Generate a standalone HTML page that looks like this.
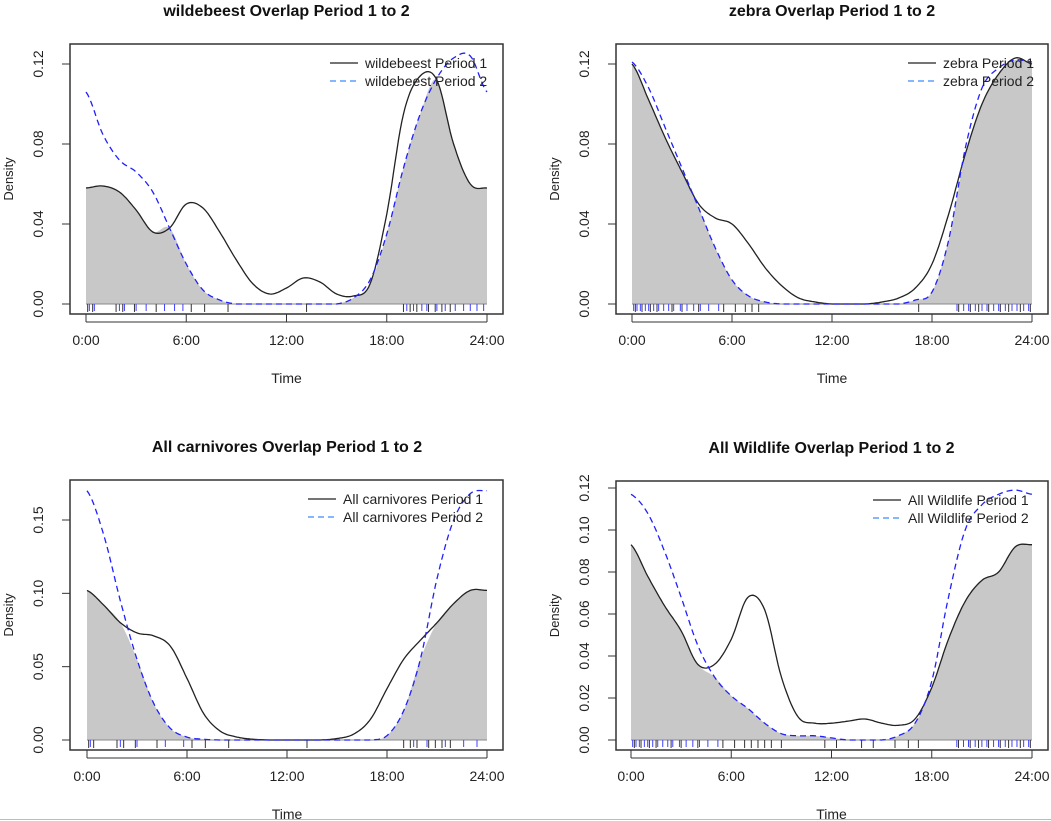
<!DOCTYPE html>
<html><head><meta charset="utf-8"><style>
html,body{margin:0;padding:0;background:#fff;}
svg{display:block;font-family:"Liberation Sans",Arial,sans-serif;}
</style></head><body>
<svg id="chart" width="1051" height="821" viewBox="0 0 1051 821"></svg>
<script>
const hours = [0,1,2,3,4,5,6,7,8,9,10,11,12,13,14,15,16,17,18,19,20,21,22,23,24];
const xTickLabels = ["0:00","6:00","12:00","18:00","24:00"];
const xTickValues = [0,6,12,18,24];
const wildebeestP1 = [0.058,0.059,0.056,0.047,0.036,0.038,0.050,0.048,0.036,0.022,0.010,0.005,0.008,0.013,0.011,0.005,0.004,0.010,0.045,0.095,0.114,0.112,0.080,0.060,0.058];
const wildebeestP2 = [0.106,0.085,0.072,0.066,0.056,0.038,0.020,0.007,0.002,0,0,0,0,0,0,0,0.003,0.012,0.035,0.068,0.095,0.113,0.123,0.124,0.106];
const zebraP1 = [0.120,0.102,0.083,0.066,0.050,0.043,0.040,0.030,0.018,0.009,0.003,0.001,0,0,0,0.001,0.003,0.008,0.020,0.045,0.075,0.100,0.115,0.123,0.120];
const zebraP2 = [0.121,0.108,0.088,0.068,0.048,0.028,0.012,0.004,0.001,0,0,0,0,0,0,0,0,0.002,0.006,0.032,0.078,0.108,0.118,0.122,0.121];
const carnP1 = [0.102,0.092,0.080,0.073,0.071,0.064,0.042,0.018,0.006,0.002,0.0005,0,0,0,0,0.001,0.004,0.014,0.035,0.055,0.068,0.080,0.093,0.102,0.102];
const carnP2 = [0.170,0.140,0.095,0.055,0.025,0.008,0.002,0.0005,0,0,0,0,0,0,0,0,0,0,0.003,0.020,0.055,0.110,0.150,0.168,0.170];
const wildP1 = [0.093,0.078,0.064,0.052,0.036,0.036,0.048,0.068,0.062,0.030,0.011,0.008,0.008,0.009,0.010,0.008,0.007,0.010,0.025,0.048,0.066,0.076,0.080,0.092,0.093];
const wildP2 = [0.117,0.108,0.090,0.068,0.045,0.030,0.021,0.015,0.008,0.003,0.002,0.002,0.001,0,0,0,0.002,0.008,0.028,0.068,0.100,0.112,0.117,0.119,0.117];
const rugA = [0.2,0.5,2.0,2.3,3.0,3.6,4.7,5.3,5.8,19.2,19.6,20.1,20.4,21.0,21.5,22.1,22.6,23.0,23.4,23.8];
const rugB = [0.1,0.4,1.8,2.2,2.9,4.2,6.3,7.1,8.5,13.2,19.0,19.4,19.8,20.5,20.9,21.3,21.8];
const rugDenseA = [0.1,0.3,0.5,0.8,1.0,1.3,1.6,1.9,2.2,2.5,2.9,3.3,3.7,4.1,4.6,5.2,19.5,19.9,20.2,20.6,21.0,21.3,21.7,22.0,22.4,22.8,23.1,23.5,23.8];
const rugDenseB = [0.2,0.6,1.1,1.5,2.4,3.0,4.0,5.5,6.2,6.8,7.2,7.6,8.0,8.4,9.0,11.6,12.3,13.8,14.5,15.8,16.6,17.2,19.6,20.3,20.8,21.4,22.1,22.6,23.3,23.9];
const ns="http://www.w3.org/2000/svg";
const svg=document.getElementById('chart');
function mk(tag,attrs,parent){const e=document.createElementNS(ns,tag);for(const k in attrs)e.setAttribute(k,attrs[k]);(parent||svg).appendChild(e);return e;}
function smooth(xs,ys,sx,sy){const pts=[];for(let i=0;i<xs.length-1;i++){const y0=ys[Math.max(0,i-1)],y1=ys[i],y2=ys[i+1],y3=ys[Math.min(ys.length-1,i+2)];for(let t=0;t<1;t+=0.1){const t2=t*t,t3=t2*t;const y=0.5*((2*y1)+(-y0+y2)*t+(2*y0-5*y1+4*y2-y3)*t2+(-y0+3*y1-3*y2+y3)*t3);pts.push([sx(xs[i]+t*(xs[i+1]-xs[i])),sy(Math.max(0,y))]);}}pts.push([sx(xs[xs.length-1]),sy(ys[ys.length-1])]);return pts;}
function panel(o){
 const g=mk('g',{});
 const sx=v=>o.x0+(o.x1-o.x0)*v/24, sy=v=>o.y0-(o.y0-o.yT)*v/o.yMax;
 const minY=hours.map((h,i)=>Math.min(o.p1[i],o.p2[i]));
 const fp=smooth(hours,minY,sx,sy);
 const area=mk('path',{d:'M'+sx(0)+','+sy(0)+' '+fp.map(p=>'L'+p[0].toFixed(1)+','+p[1].toFixed(1)).join(' ')+' L'+sx(24)+','+sy(0)+'Z',fill:'#c8c8c8'},g);
 
 mk('line',{x1:sx(0),x2:sx(24),y1:sy(0),y2:sy(0),stroke:'#888','stroke-width':1},g);
 const l1=mk('path',{d:'M'+smooth(hours,o.p1,sx,sy).map(p=>p[0].toFixed(1)+','+p[1].toFixed(1)).join(' L'),fill:'none',stroke:'#222','stroke-width':1.3},g);
 
 const l2=mk('path',{d:'M'+smooth(hours,o.p2,sx,sy).map(p=>p[0].toFixed(1)+','+p[1].toFixed(1)).join(' L'),fill:'none',stroke:'#2020ff','stroke-width':1.3,'stroke-dasharray':'6,4'},g);
 
 o.rugB.forEach(t=>mk('line',{x1:sx(t),x2:sx(t),y1:sy(0),y2:sy(0)+8,stroke:'#333','stroke-width':1},g));
 o.rugA.forEach(t=>mk('line',{x1:sx(t),x2:sx(t),y1:sy(0),y2:sy(0)+7,stroke:'#4040ff','stroke-width':1},g));
 const box=mk('rect',{x:o.bx0,y:o.by0,width:o.bx1-o.bx0,height:o.by1-o.by0,fill:'none',stroke:'#333','stroke-width':1.5},g);
 
 xTickValues.forEach((v,i)=>{mk('line',{x1:sx(v),x2:sx(v),y1:o.by1,y2:o.by1+8,stroke:'#333'},g);
  const t=mk('text',{x:sx(v),y:o.by1+31,'text-anchor':'middle','font-size':14,fill:'#222'},g);t.textContent=xTickLabels[i];
  });
 mk('line',{x1:sx(0),x2:sx(24),y1:o.by1+8,y2:o.by1+8,stroke:'#333'},g);
 o.yTicks.forEach(v=>{const y=sy(v);mk('line',{x1:o.bx0,x2:o.bx0-8,y1:y,y2:y,stroke:'#333'},g);
  const t=mk('text',{x:o.bx0-27,y:y,'text-anchor':'middle','font-size':14,fill:'#222',transform:`rotate(-90 ${o.bx0-27} ${y})`},g);t.textContent=o.yFmt(v);
  });
 mk('line',{x1:o.bx0,x2:o.bx0,y1:sy(o.yTicks[0]),y2:sy(o.yTicks[o.yTicks.length-1]),stroke:'#333'},g);
 const yl=mk('text',{x:o.bx0-57,y:(o.by0+o.by1)/2,'text-anchor':'middle','font-size':13,fill:'#222',transform:`rotate(-90 ${o.bx0-57} ${(o.by0+o.by1)/2})`},g);yl.textContent='Density';
 
 const xl=mk('text',{x:sx(12),y:o.by1+69,'text-anchor':'middle','font-size':14,fill:'#222'},g);xl.textContent='Time';
 
 const ti=mk('text',{x:sx(12),y:o.by0-28,'text-anchor':'middle','font-size':16,'font-weight':'bold',fill:'#111'},g);ti.textContent=o.title+' Overlap Period 1 to 2';
 
 const lx=o.bx1-o.lw, ly=o.by0+19;
 const lg=mk('g',{},g);
 mk('line',{x1:lx,x2:lx+28,y1:ly,y2:ly,stroke:'#222','stroke-width':1.3},lg);
 mk('line',{x1:lx,x2:lx+28,y1:ly+18,y2:ly+18,stroke:'#3a8cff','stroke-width':1.3,'stroke-dasharray':'6,4'},lg);
 const a=mk('text',{x:lx+35,y:ly+5,'font-size':14,fill:'#222'},lg);a.textContent=o.title+' Period 1';
 
 const b=mk('text',{x:lx+35,y:ly+23,'font-size':14,fill:'#222'},lg);b.textContent=o.title+' Period 2';
 
}
const f2=v=>v.toFixed(2);
panel({name:'wildebeest',title:'wildebeest',p1:wildebeestP1,p2:wildebeestP2,rugA:rugA,rugB:rugB,x0:86,x1:487,y0:304,yT:64,yMax:0.12,bx0:70,bx1:503,by0:44,by1:314,yTicks:[0,0.04,0.08,0.12],yFmt:f2,lw:173});
panel({name:'zebra',title:'zebra',p1:zebraP1,p2:zebraP2,rugA:rugDenseA,rugB:rugDenseB.filter(t=>t<8||t>17),x0:632,x1:1032,y0:304,yT:64,yMax:0.12,bx0:616,bx1:1048,by0:44,by1:314,yTicks:[0,0.04,0.08,0.12],yFmt:f2,lw:140});
panel({name:'all-carnivores',title:'All carnivores',p1:carnP1,p2:carnP2,rugA:rugA.filter((t,i)=>i%2==0),rugB:rugB,x0:87,x1:487,y0:740,yT:520,yMax:0.15,bx0:70,bx1:503,by0:480,by1:750,yTicks:[0,0.05,0.10,0.15],yFmt:f2,lw:195});
panel({name:'all-wildlife',title:'All Wildlife',p1:wildP1,p2:wildP2,rugA:rugDenseA,rugB:rugDenseB,x0:631,x1:1032,y0:740,yT:488,yMax:0.12,bx0:616,bx1:1048,by0:481,by1:750,yTicks:[0,0.02,0.04,0.06,0.08,0.10,0.12],yFmt:f2,lw:175});
mk('line',{x1:0,x2:1051,y1:819.5,y2:819.5,stroke:'#bbb','stroke-width':1});
</script>
</body></html>
